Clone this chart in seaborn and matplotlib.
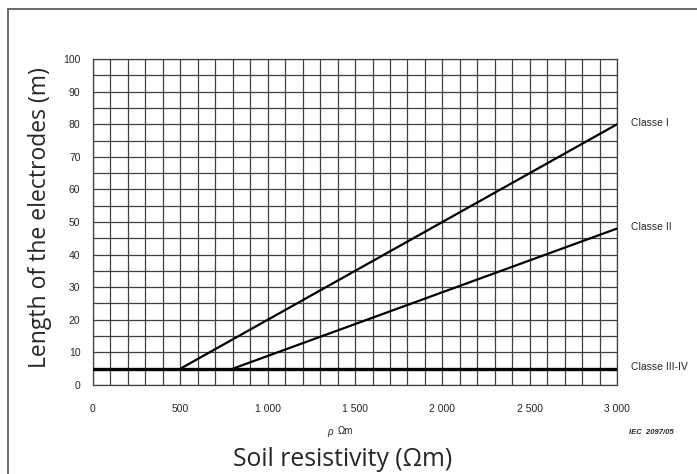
import matplotlib
matplotlib.use("Agg")
import matplotlib.pyplot as plt
import seaborn as sns
import pandas as pd
from matplotlib.patches import Rectangle

# data
classes = ["Classe I", "Classe II", "Classe III-IV"]
rho_I = [500, 3000]
len_I = [5, 80]
rho_II = [800, 3000]
len_II = [5, 48]
rho_III = [0, 3000]
len_III = [5, 5]
x_ticks = [0, 500, 1000, 1500, 2000, 2500, 3000]
x_labels = ["0", "500", "1 000", "1 500", "2 000", "2 500", "3 000"]
y_ticks = [0, 10, 20, 30, 40, 50, 60, 70, 80, 90, 100]

df = pd.DataFrame({
    "rho": rho_I + rho_II + rho_III,
    "length": len_I + len_II + len_III,
    "classe": [classes[0]] * 2 + [classes[1]] * 2 + [classes[2]] * 2,
})

sns.set_style("white")
plt.rcParams["font.family"] = ["Liberation Sans", "DejaVu Sans"]

fig = plt.figure(figsize=(6.97, 4.74), dpi=100)
ax = fig.add_axes([0.1334, 0.1878, 0.752, 0.6877])

# grid every 100 Ωm and every 5 m
ax.set_xticks(range(0, 3001, 100), minor=True)
ax.set_yticks(range(0, 101, 5), minor=True)
ax.grid(which="both", color="#404040", linewidth=0.9)
ax.set_axisbelow(True)

sns.lineplot(data=df, x="rho", y="length", hue="classe", size="classe",
             sizes={"Classe I": 1.6, "Classe II": 1.6, "Classe III-IV": 2.4},
             palette=["black", "black", "black"], legend=False, ax=ax,
             zorder=3)

ax.set_xlim(0, 3000)
ax.set_ylim(0, 100)
ax.set_xticks(x_ticks)
ax.set_xticklabels(x_labels)
ax.set_yticks(y_ticks)
ax.tick_params(which="major", length=5, width=0.9, color="#404040",
               labelsize=7.5, pad=9)
ax.tick_params(which="minor", length=0)
ax.tick_params(axis="y", pad=4)
for s in ax.spines.values():
    s.set_color("#404040")
    s.set_linewidth(0.9)
ax.set_xlabel("")
ax.set_ylabel("")

# class labels at line ends
for x, y, name in [(rho_I[-1], len_I[-1], classes[0]),
                   (rho_II[-1], len_II[-1], classes[1]),
                   (rho_III[-1], len_III[-1], classes[2])]:
    ax.annotate(name, (x, y), xytext=(10, 1), textcoords="offset points",
                fontsize=7.5, va="center", ha="left", annotation_clip=False)

fig.text(0.474, 0.089, "ρ", fontsize=7, ha="center", va="center",
         style="italic")
fig.text(0.496, 0.091, "Ωm", fontsize=7, ha="center", va="center")
fig.text(0.935, 0.087, "IEC  2097/05", fontsize=5.5, ha="center",
         va="center", style="italic", weight="bold")

fig.text(0.492, 0.03, "Soil resistivity (Ωm)", fontsize=17.8, ha="center",
         va="center", family=["Open Sans", "DejaVu Sans"])
fig.text(0.057, 0.542, "Length of the electrodes (m)", fontsize=16.5,
         ha="center", va="center", rotation=90,
         family=["Open Sans", "DejaVu Sans"])

# frame around the figure (open on the right like the reference)
fig.patches.append(Rectangle((0.012, -0.05), 1.2, 1.03,
                             transform=fig.transFigure, fill=False,
                             edgecolor="#505050", linewidth=1.2))

fig.savefig("out.png", dpi=100)
